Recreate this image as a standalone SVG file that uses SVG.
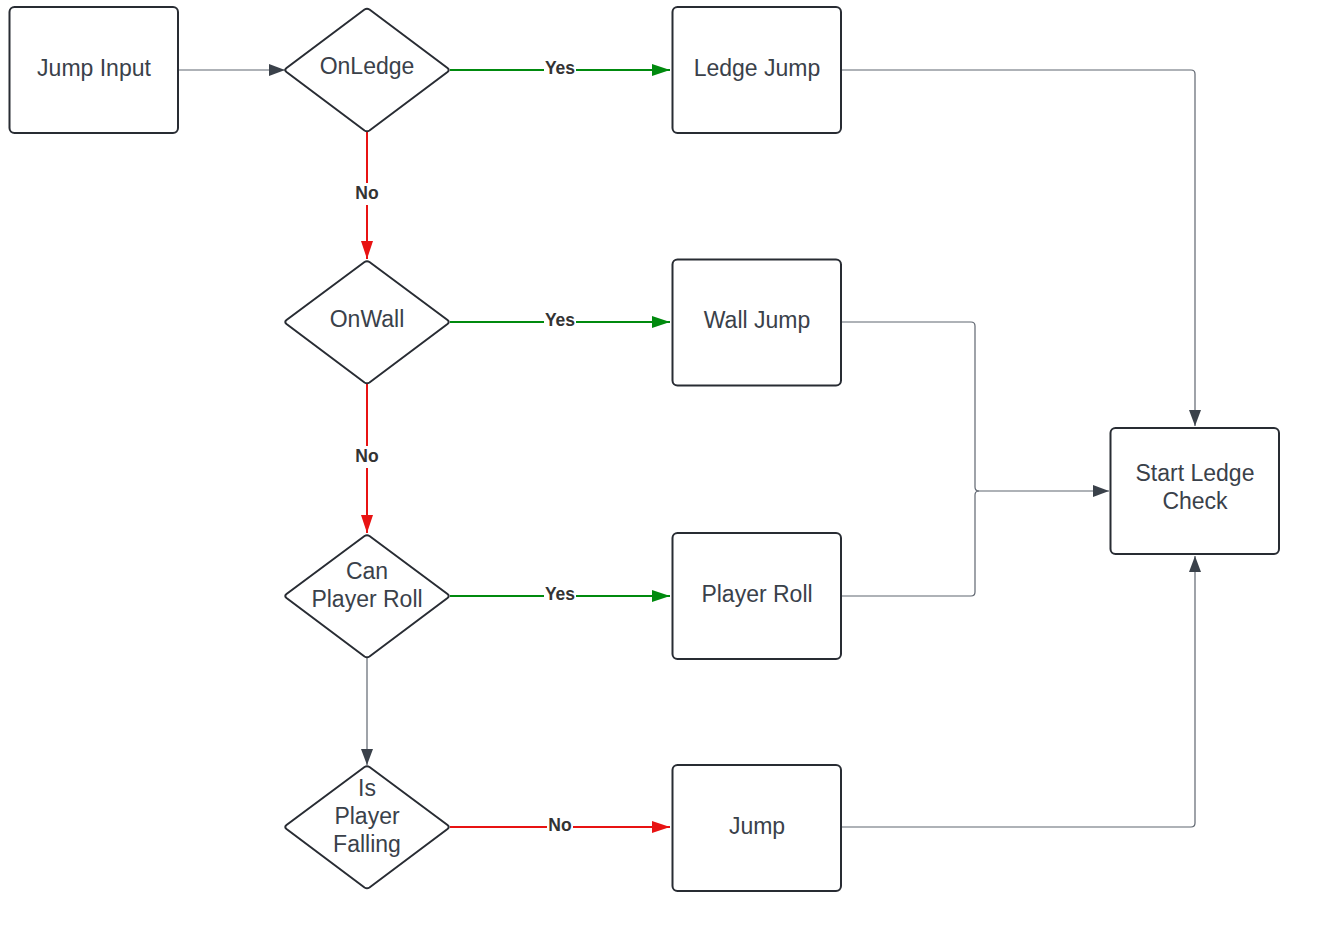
<svg xmlns="http://www.w3.org/2000/svg" width="1342" height="946" viewBox="0 0 1342 946">
<style>
.box{fill:#fff;stroke:#282c33;stroke-width:2}
.t{font-family:"Liberation Sans",Arial,sans-serif;font-size:23px;fill:#3a414a;text-anchor:middle}
.lbl{font-family:"Liberation Sans",Arial,sans-serif;font-size:17.5px;font-weight:bold;fill:#333;text-anchor:middle}
.g{fill:none;stroke:#5f6670;stroke-width:1.2}
.gr{fill:none;stroke:#008a0e;stroke-width:2}
.rd{fill:none;stroke:#e81313;stroke-width:2}
.bg{fill:#fff}
</style>
<defs>
<marker id="ag" markerWidth="16" markerHeight="12" refX="16" refY="6" orient="auto" markerUnits="userSpaceOnUse"><path d="M0,0 L16,6 L0,12 Z" fill="#3a414a"/></marker>
<marker id="agr" markerWidth="18" markerHeight="12" refX="18" refY="6" orient="auto" markerUnits="userSpaceOnUse"><path d="M0,0 L18,6 L0,12 Z" fill="#008a0e"/></marker>
<marker id="ard" markerWidth="18" markerHeight="12" refX="18" refY="6" orient="auto" markerUnits="userSpaceOnUse"><path d="M0,0 L18,6 L0,12 Z" fill="#e81313"/></marker>
</defs>
<rect width="1342" height="946" fill="#fff"/>
<g id="connectors">
<path class="g" d="M178,70 H285" marker-end="url(#ag)"/>
<path class="gr" d="M450,70 H670" marker-end="url(#agr)"/>
<path class="rd" d="M367,131 V259" marker-end="url(#ard)"/>
<path class="gr" d="M450,322 H670" marker-end="url(#agr)"/>
<path class="rd" d="M367,384 V533" marker-end="url(#ard)"/>
<path class="gr" d="M450,596 H670" marker-end="url(#agr)"/>
<path class="g" d="M367,658 V765" marker-end="url(#ag)"/>
<path class="rd" d="M450,827 H670" marker-end="url(#ard)"/>
<path class="g" d="M841,70 H1191 Q1195,70 1195,74 V426" marker-end="url(#ag)"/>
<path class="g" d="M841,322 H971 Q975,322 975,326 V487 Q975,491 979,491 H1109" marker-end="url(#ag)"/>
<path class="g" d="M841,596 H971 Q975,596 975,592 V495 Q975,491 979,491"/>
<path class="g" d="M841,827 H1191 Q1195,827 1195,823 V556" marker-end="url(#ag)"/>
<rect class="bg" x="544" y="59" width="32" height="20"/>
<text class="lbl" x="560" y="74">Yes</text>
<rect class="bg" x="353" y="183" width="28" height="22"/>
<text class="lbl" x="367" y="199">No</text>
<rect class="bg" x="544" y="311" width="32" height="20"/>
<text class="lbl" x="560" y="326">Yes</text>
<rect class="bg" x="353" y="446" width="28" height="22"/>
<text class="lbl" x="367" y="462">No</text>
<rect class="bg" x="544" y="585" width="32" height="20"/>
<text class="lbl" x="560" y="600">Yes</text>
<rect class="bg" x="547" y="816" width="26" height="20"/>
<text class="lbl" x="560" y="831">No</text>
</g>
<g id="jump-input"><rect class="box" x="9.5" y="7" width="168.5" height="126" rx="5"/><text class="t" x="94" y="76">Jump Input</text></g>
<g id="onledge"><path class="box" d="M364.5,9.5 Q367,8 369.5,9.5 L447.5,68 Q450,70 447.5,72 L369.5,130.5 Q367,132 364.5,130.5 L286.5,72 Q284,70 286.5,68 Z"/><text class="t" x="367" y="74">OnLedge</text></g>
<g id="ledge-jump"><rect class="box" x="672.5" y="7" width="168.5" height="126" rx="5"/><text class="t" x="757" y="76">Ledge Jump</text></g>
<g id="onwall"><path class="box" d="M364.5,262 Q367,260.5 369.5,262 L447.5,320 Q450,322 447.5,324 L369.5,382.5 Q367,384 364.5,382.5 L286.5,324 Q284,322 286.5,320 Z"/><text class="t" x="367" y="327">OnWall</text></g>
<g id="wall-jump"><rect class="box" x="672.5" y="259.5" width="168.5" height="126" rx="5"/><text class="t" x="757" y="328">Wall Jump</text></g>
<g id="can-player-roll"><path class="box" d="M364.5,536 Q367,534.5 369.5,536 L447.5,594 Q450,596 447.5,598 L369.5,656.5 Q367,658 364.5,656.5 L286.5,598 Q284,596 286.5,594 Z"/><text class="t" x="367" y="579">Can</text><text class="t" x="367" y="607">Player Roll</text></g>
<g id="player-roll"><rect class="box" x="672.5" y="533" width="168.5" height="126" rx="5"/><text class="t" x="757" y="602">Player Roll</text></g>
<g id="is-player-falling"><path class="box" d="M364.5,767 Q367,765.5 369.5,767 L447.5,825 Q450,827 447.5,829 L369.5,887.5 Q367,889 364.5,887.5 L286.5,829 Q284,827 286.5,825 Z"/><text class="t" x="367" y="796">Is</text><text class="t" x="367" y="824">Player</text><text class="t" x="367" y="852">Falling</text></g>
<g id="jump"><rect class="box" x="672.5" y="765" width="168.5" height="126" rx="5"/><text class="t" x="757" y="834">Jump</text></g>
<g id="start-ledge-check"><rect class="box" x="1110.5" y="428" width="168.5" height="126" rx="5"/><text class="t" x="1195" y="481">Start Ledge</text><text class="t" x="1195" y="509">Check</text></g>
</svg>
